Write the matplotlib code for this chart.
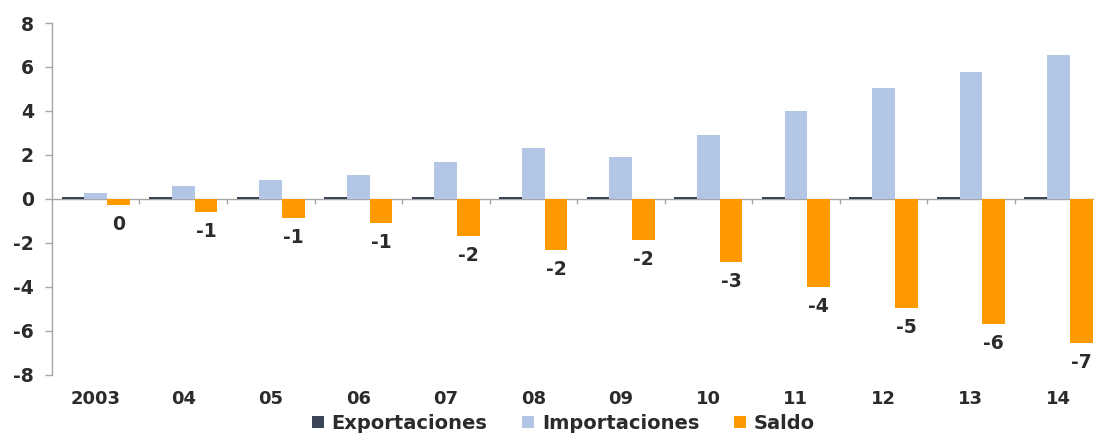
import matplotlib
matplotlib.use("Agg")
import matplotlib.pyplot as plt
import numpy as np

# Data
years = ["2003", "04", "05", "06", "07", "08", "09", "10", "11", "12", "13", "14"]
exportaciones = [0.10, 0.10, 0.10, 0.10, 0.10, 0.10, 0.10, 0.10, 0.10, 0.10, 0.10, 0.10]
importaciones = [0.27, 0.60, 0.85, 1.10, 1.70, 2.30, 1.90, 2.90, 4.00, 5.05, 5.75, 6.55]
saldo = [-0.27, -0.60, -0.85, -1.10, -1.70, -2.30, -1.85, -2.85, -4.00, -4.95, -5.70, -6.55]
saldo_labels = ["0", "-1", "-1", "-1", "-2", "-2", "-2", "-3", "-4", "-5", "-6", "-7"]

# Style
text_color = "#2b2b2b"
axis_color = "#a6a6a6"
col_exp = "#3a4658"
col_imp = "#b3c6e6"
col_sal = "#ff9900"
font = "DejaVu Sans"

plt.rcParams["font.family"] = font
plt.rcParams["font.weight"] = "bold"
plt.rcParams["axes.unicode_minus"] = False

fig = plt.figure(figsize=(10.94, 4.34), dpi=100)
ax = fig.add_axes([0.0475, 0.136, 0.96, 0.811])

x = np.arange(len(years))
w = 0.26

ax.bar(x - w, exportaciones, width=w, color=col_exp, label="Exportaciones")
ax.bar(x, importaciones, width=w, color=col_imp, label="Importaciones")
ax.bar(x + w, saldo, width=w, color=col_sal, label="Saldo")

# Data labels under the balance bars
for xi, val, lab in zip(x, saldo, saldo_labels):
    ax.annotate(
        lab,
        xy=(xi + w, val),
        xytext=(0, -14),
        textcoords="offset points",
        ha="center",
        va="center",
        fontsize=13.5,
        fontweight="bold",
        color=text_color,
    )

# Axes limits
ax.set_xlim(-0.5, len(years) - 0.5)
ax.set_ylim(-8, 8)
ax.set_yticks(np.arange(-8, 9, 2))

# Zero line and category boundary ticks
ax.axhline(0, color=axis_color, linewidth=1.0, zorder=0.5)
bounds = np.arange(0.5, len(years) - 0.5, 1)
ax.vlines(bounds, -0.25, 0, color=axis_color, linewidth=1.0)

# Spines
for side in ["top", "right", "bottom"]:
    ax.spines[side].set_visible(False)
ax.spines["left"].set_color(axis_color)
ax.spines["left"].set_linewidth(1.0)

# Ticks
ax.set_xticks(x)
ax.set_xticklabels(years)
ax.tick_params(axis="x", length=0, pad=11, labelsize=13, labelcolor=text_color)
ax.tick_params(axis="y", length=5, width=1.0, color=axis_color, pad=8,
               labelsize=13.5, labelcolor=text_color)
for lbl in ax.get_xticklabels() + ax.get_yticklabels():
    lbl.set_fontweight("bold")

# Legend
leg = fig.legend(
    loc="center",
    bbox_to_anchor=(0.515, 0.025),
    ncol=3,
    frameon=False,
    fontsize=14,
    handlelength=0.6,
    handleheight=0.6,
    handletextpad=0.4,
    columnspacing=1.8,
    borderpad=0,
)
for t in leg.get_texts():
    t.set_color(text_color)
    t.set_fontweight("bold")

fig.savefig("out.png", dpi=100)
